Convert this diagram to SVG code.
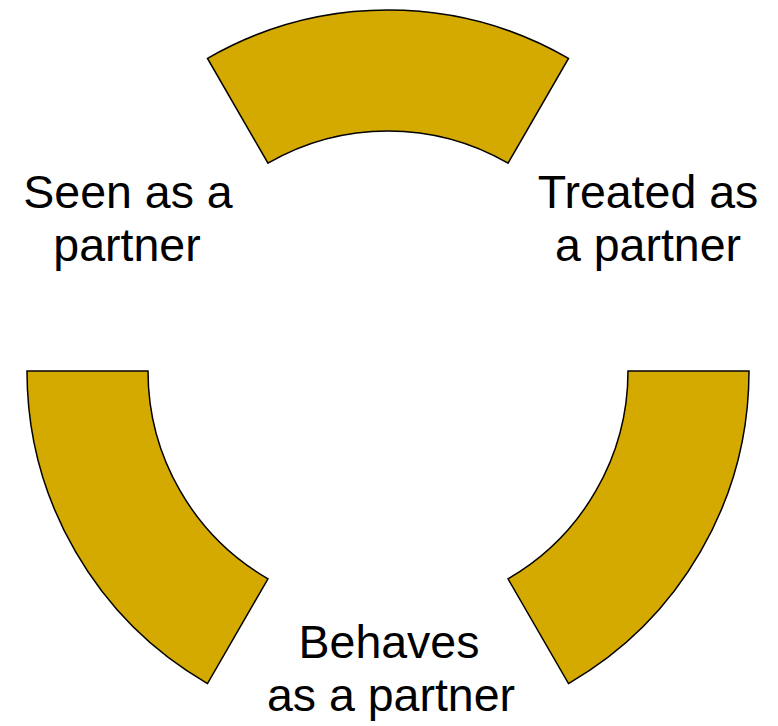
<svg xmlns="http://www.w3.org/2000/svg" width="778" height="726" viewBox="0 0 778 726">
<style>
.seg{fill:#D4A900;stroke:#000;stroke-width:1.5;stroke-linejoin:miter}
.lbl{font-family:"Liberation Sans",Arial,sans-serif;font-size:46.5px;fill:#000;text-anchor:middle}
</style>
<rect width="778" height="726" fill="#fff"/>
<g id="segment-top">
<path class="seg" d="M207.5,58.4 A361,361 0 0 1 568.5,58.4 L508,163.2 A240,240 0 0 0 268,163.2 Z"/>
</g>
<g id="segment-right">
<path class="seg" d="M749,371 A361,361 0 0 1 568.5,683.6 L508,578.8 A240,240 0 0 0 628,371 Z"/>
</g>
<g id="segment-left">
<path class="seg" d="M27,371 L148,371 A240,240 0 0 0 268,578.8 L207.5,683.6 A361,361 0 0 1 27,371 Z"/>
</g>
<g id="label-seen">
<text class="lbl" x="128" y="208">Seen as a</text>
<text class="lbl" x="127" y="261">partner</text>
</g>
<g id="label-treated">
<text class="lbl" x="648" y="208">Treated as</text>
<text class="lbl" x="648" y="261">a partner</text>
</g>
<g id="label-behaves">
<text class="lbl" x="389" y="658">Behaves</text>
<text class="lbl" x="391" y="711">as a partner</text>
</g>
<g id="connectors"></g>
</svg>
